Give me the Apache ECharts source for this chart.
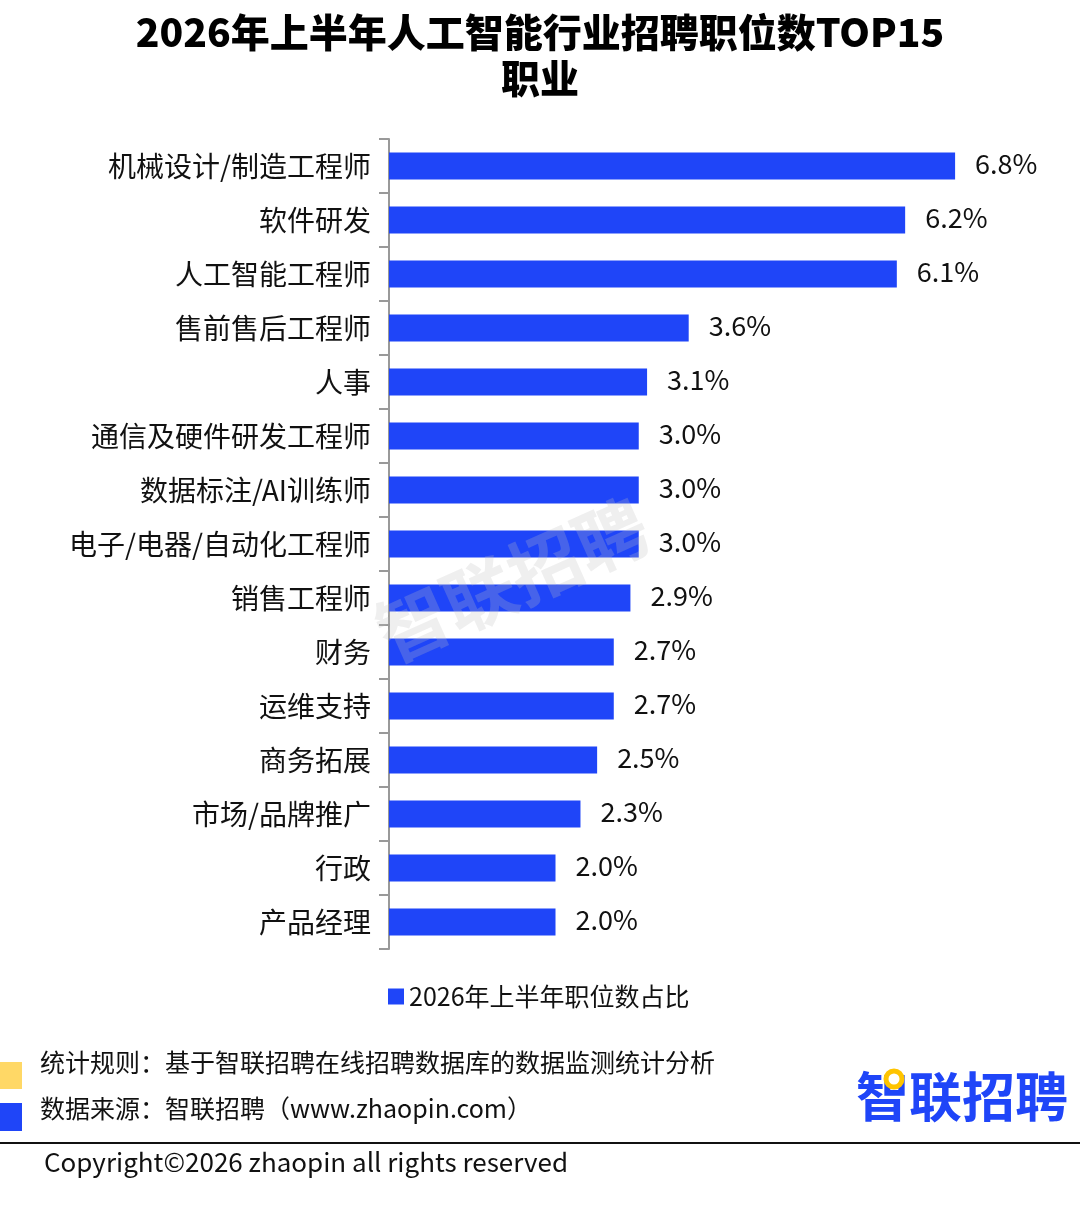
<!DOCTYPE html>
<html><head><meta charset="utf-8">
<script src="https://cdn.jsdelivr.net/npm/echarts@6/dist/echarts.min.js"></script>
<style>html,body{margin:0;padding:0;background:#fff}#c{width:1080px;height:1205px}</style>
</head><body><div id="c"></div>
<script>
const categories = ['机械设计/制造工程师','软件研发','人工智能工程师','售前售后工程师','人事','通信及硬件研发工程师','数据标注/AI训练师','电子/电器/自动化工程师','销售工程师','财务','运维支持','商务拓展','市场/品牌推广','行政','产品经理'];
const values = [6.8, 6.2, 6.1, 3.6, 3.1, 3.0, 3.0, 3.0, 2.9, 2.7, 2.7, 2.5, 2.3, 2.0, 2.0];
const seriesName = '2026年上半年职位数占比';
const titleText = '2026年上半年人工智能行业招聘职位数TOP15\n职业';
const noteLines = ['统计规则：基于智联招聘在线招聘数据库的数据监测统计分析','数据来源：智联招聘（www.zhaopin.com）'];
const copyrightText = 'Copyright©2026 zhaopin all rights reserved';
const logoText = '智联招聘';

const FONT = '"Noto Sans CJK SC","Noto Sans",sans-serif';
const BLUE = '#1f45f8';
const chart = echarts.init(document.getElementById('c'));
chart.setOption({
  backgroundColor: '#fff',
  textStyle: {fontFamily: FONT},
  title: {
    text: titleText, left: 'center', top: 4,
    textStyle: {fontFamily: FONT, fontSize: 39, fontWeight: 900, color: '#000', lineHeight: 46}
  },
  legend: {
    bottom: 191, left: 383, itemWidth: 16, itemHeight: 16, itemGap: 9, icon: 'rect',
    data: [seriesName],
    textStyle: {fontFamily: FONT, fontSize: 25, color: '#111'}
  },
  grid: {left: 389, width: 666, top: 139, bottom: 256, containLabel: false},
  xAxis: {type: 'value', min: 0, max: 8, show: false},
  yAxis: {
    type: 'category', data: categories, inverse: true,
    axisLine: {show: true, lineStyle: {color: '#999', width: 2}},
    axisTick: {show: true, length: 10, lineStyle: {color: '#999', width: 2}},
    axisLabel: {fontFamily: FONT, fontSize: 28, color: '#111', margin: 18}
  },
  series: [{
    name: seriesName, type: 'bar', data: values, barWidth: 27,
    itemStyle: {color: BLUE},
    label: {show: true, position: 'right', distance: 20, fontFamily: FONT, fontSize: 27, color: '#111', offset: [0, -2],
      formatter: p => p.value.toFixed(1) + '%'}
  }],
  graphic: [
    {type: 'text', x: 512, y: 580, rotation: 0.42, z: 100, silent: true,
     style: {text: logoText, fontFamily: FONT, fontSize: 72, fontWeight: 'bold', fill: 'rgba(190,190,190,0.25)', textAlign: 'center', textVerticalAlign: 'middle'}},
    {type: 'rect', shape: {x: 0, y: 1062, width: 22, height: 27}, style: {fill: '#ffd866'}},
    {type: 'rect', shape: {x: 0, y: 1103, width: 22, height: 28}, style: {fill: BLUE}},
    {type: 'text', x: 40, y: 1062, style: {text: noteLines[0], fontFamily: FONT, fontSize: 25, fill: '#111', textVerticalAlign: 'middle'}},
    {type: 'text', x: 40, y: 1108, style: {text: noteLines[1], fontFamily: FONT, fontSize: 25, fill: '#111', textVerticalAlign: 'middle'}},
    {type: 'text', x: 856, y: 1097, style: {text: logoText, fontFamily: FONT, fontSize: 53, fontWeight: 'bold', fill: BLUE, textVerticalAlign: 'middle'}},
    {type: 'circle', shape: {cx: 894, cy: 1079, r: 8}, style: {fill: '#fff', stroke: '#ffc400', lineWidth: 5}},
    {type: 'line', shape: {x1: 0, y1: 1143, x2: 1080, y2: 1143}, style: {stroke: '#111', lineWidth: 2}},
    {type: 'text', x: 44, y: 1162, style: {text: copyrightText, fontFamily: FONT, fontSize: 26, fill: '#111', textVerticalAlign: 'middle'}}
  ]
});
</script></body></html>
